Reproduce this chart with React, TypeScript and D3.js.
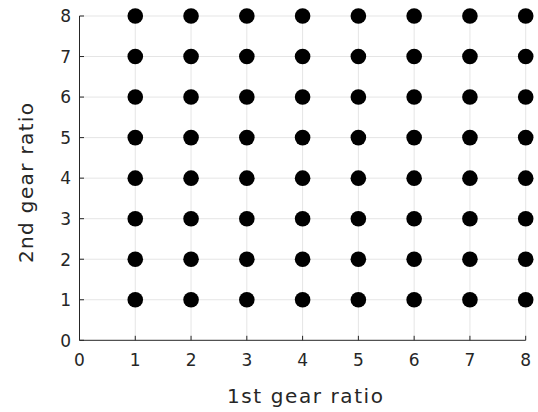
import React from "react";
import * as d3 from "d3";

const xValues = [1, 2, 3, 4, 5, 6, 7, 8];
const yValues = [1, 2, 3, 4, 5, 6, 7, 8];
const ticks = [0, 1, 2, 3, 4, 5, 6, 7, 8];
const xLabel = "1st gear ratio";
const yLabel = "2nd gear ratio";

const W = 538, H = 412;
const left = 79.5, right = 525.7, top = 16, bottom = 340.3;
const font = "'DejaVu Sans', sans-serif";

export default function App() {
  const x = d3.scaleLinear().domain([0, 8]).range([left, right]);
  const y = d3.scaleLinear().domain([0, 8]).range([bottom, top]);
  const points = xValues.flatMap((xv) => yValues.map((yv) => ({ xv, yv })));
  const axisColor = "#262626";
  return (
    <svg width={W} height={H} style={{ position: "absolute", left: 0, top: 0 }}>
      <rect width={W} height={H} fill="#fff" />
      {ticks.slice(1).map((t) => (
        <line key={"gx" + t} x1={x(t)} x2={x(t)} y1={bottom} y2={top} stroke="#e5e5e5" strokeWidth={1} />
      ))}
      {ticks.slice(1).map((t) => (
        <line key={"gy" + t} x1={left} x2={right} y1={y(t)} y2={y(t)} stroke="#e5e5e5" strokeWidth={1} />
      ))}
      {points.map((p, i) => (
        <circle key={i} cx={x(p.xv)} cy={y(p.yv)} r={7.8} fill="#000" />
      ))}
      <line x1={left} x2={right} y1={bottom} y2={bottom} stroke={axisColor} strokeWidth={1} />
      <line x1={left} x2={left} y1={bottom} y2={top} stroke={axisColor} strokeWidth={1} />
      {ticks.map((t) => (
        <g key={"tx" + t}>
          <line x1={x(t)} x2={x(t)} y1={bottom} y2={bottom - 4.5} stroke={axisColor} />
          <text x={x(t)} y={bottom + 26} textAnchor="middle" fontFamily={font} fontSize={17} fill={axisColor}>{t}</text>
        </g>
      ))}
      {ticks.map((t) => (
        <g key={"ty" + t}>
          <line x1={left} x2={left + 4.5} y1={y(t)} y2={y(t)} stroke={axisColor} />
          <text x={left - 8.5} y={y(t) + 6.3} textAnchor="end" fontFamily={font} fontSize={17} fill={axisColor}>{t}</text>
        </g>
      ))}
      <text x={305} y={403} textAnchor="middle" fontFamily={font} fontSize={20} fill={axisColor}
        textLength={156} lengthAdjust="spacing">{xLabel}</text>
      <text transform={`translate(33, 183) rotate(-90)`} textAnchor="middle" fontFamily={font} fontSize={20} fill={axisColor}
        textLength={160} lengthAdjust="spacing">{yLabel}</text>
    </svg>
  );
}
